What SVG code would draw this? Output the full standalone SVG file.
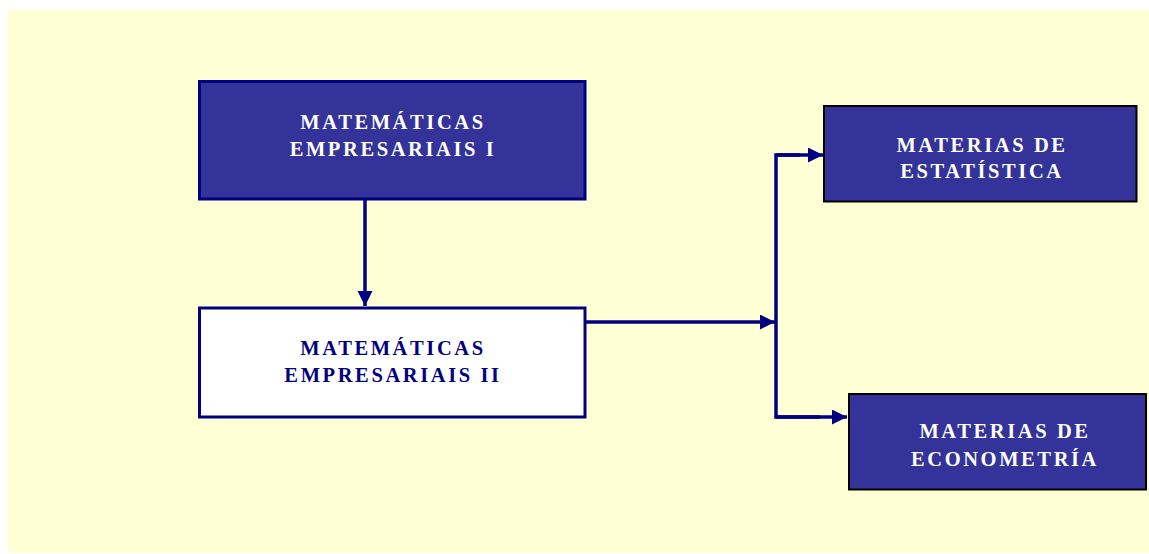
<svg xmlns="http://www.w3.org/2000/svg" width="1149" height="554" viewBox="0 0 1149 554">
<style>
.t{font-family:"Liberation Serif","Times New Roman",serif;font-weight:bold;font-size:20.5px;letter-spacing:2.6px;text-anchor:middle}
.w{fill:#ffffff}
.n{fill:#000080}
.ln{stroke:#000080;stroke-width:3.5;fill:none}
</style>
<defs>
<marker id="ah" markerUnits="userSpaceOnUse" markerWidth="16" markerHeight="16" refX="15" refY="7.5" orient="auto">
<path d="M0,0 L15,7.5 L0,15 Z" fill="#000080"/>
</marker>
</defs>
<rect x="0" y="0" width="1149" height="554" fill="#ffffff"/>
<rect x="8" y="10" width="1141" height="543" fill="#ffffd6"/>
<g id="connectors">
<line class="ln" x1="365" y1="200" x2="365" y2="306" marker-end="url(#ah)"/>
<line class="ln" x1="586" y1="322" x2="775" y2="322" marker-end="url(#ah)"/>
<polyline class="ln" points="800,155 776,155 776,417 820,417"/>
<line class="ln" x1="776" y1="155" x2="823" y2="155" marker-end="url(#ah)"/>
<line class="ln" x1="776" y1="417" x2="847" y2="417" marker-end="url(#ah)"/>
</g>
<g id="node1">
<rect x="199.5" y="81.5" width="385.5" height="117.5" fill="#333399" stroke="#000080" stroke-width="3"/>
<text class="t w" x="393" y="129">MATEMÁTICAS</text>
<text class="t w" x="393" y="156">EMPRESARIAIS I</text>
</g>
<g id="node2">
<rect x="199.5" y="308" width="385.5" height="109" fill="#ffffff" stroke="#000080" stroke-width="3"/>
<text class="t n" x="393" y="355">MATEMÁTICAS</text>
<text class="t n" x="393" y="382">EMPRESARIAIS II</text>
</g>
<g id="node3">
<rect x="824" y="106" width="312.5" height="95.5" fill="#333399" stroke="#000000" stroke-width="2"/>
<text class="t w" x="982" y="152">MATERIAS DE</text>
<text class="t w" x="982" y="178">ESTATÍSTICA</text>
</g>
<g id="node4">
<rect x="849" y="394" width="297" height="95.5" fill="#333399" stroke="#000000" stroke-width="2"/>
<text class="t w" x="1005" y="438">MATERIAS DE</text>
<text class="t w" x="1005" y="466">ECONOMETRÍA</text>
</g>
</svg>
